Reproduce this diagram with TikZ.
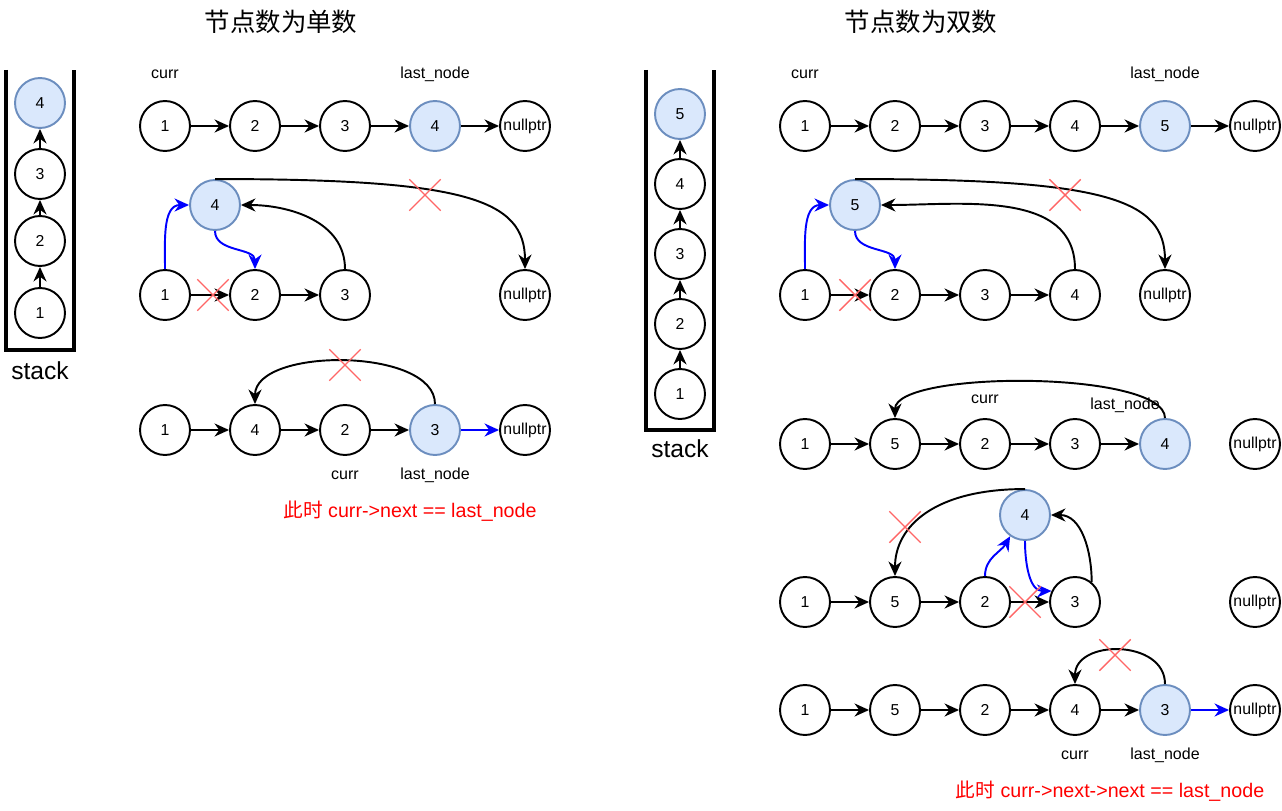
\documentclass[tikz,border=0pt]{standalone}
\usepackage{fontspec}
\setmainfont{Liberation Sans}
\newfontfamily\cjk{Noto Sans CJK SC}
\usetikzlibrary{arrows.meta,shapes.misc}
\definecolor{topfill}{HTML}{DAE8FC}
\definecolor{topline}{HTML}{6C8EBF}
\definecolor{ptrblue}{HTML}{0000FF}
\definecolor{xred}{HTML}{FF6666}
\definecolor{notered}{HTML}{FF0000}
\tikzset{
  nd/.style={circle, draw=black, line width=1.1pt, fill=white, minimum size=1cm,
             inner sep=0pt, font=\fontsize{9}{10}\selectfont},
  topnd/.style={nd, draw=topline, fill=topfill},
  ar/.style={-{Stealth[length=2.9mm,width=2.6mm]}, line width=1.1pt},
  arb/.style={ar, draw=ptrblue},
  xmark/.style={cross out, draw=xred, line width=0.8pt, minimum size=0.6cm, inner sep=0pt},
  lbl/.style={font=\fontsize{9.1}{10}\selectfont},
  ttl/.style={font=\cjk\fontsize{14.5}{16}\selectfont},
  stk/.style={font=\fontsize{14}{16}\selectfont},
  wall/.style={line width=2pt},
  note/.style={text=notered, font=\fontsize{11.2}{13}\selectfont},
}

\begin{document}
\begin{tikzpicture}[x=0.02cm,y=-0.02cm]
\useasboundingbox (0,0) rectangle (1282,811);

%% =====================================================================
%% left: odd number of nodes
%% =====================================================================
\node[ttl] (ltitle) at (281,22) {节点数为单数};

%% stack
\draw[wall] (6,70) -- (6,350) -- (74,350) -- (74,70);
\node[nd] (ls1) at (40,313) {1};
\node[nd] (ls2) at (40,241) {2};
\node[nd] (ls3) at (40,174) {3};
\node[topnd] (ls4) at (40,103) {4};
\draw[ar] (ls1) -- (ls2);
\draw[ar] (ls2) -- (ls3);
\draw[ar] (ls3) -- (ls4);
\node[stk] (lstack) at (40,371) {stack};

%% row 1
\node[lbl] (lacurr) at (165,74) {curr};
\node[lbl] (lalast) at (435,74) {last\_node};
\node[nd] (la1) at (165,126) {1};
\node[nd] (la2) at (255,126) {2};
\node[nd] (la3) at (345,126) {3};
\node[topnd] (la4) at (435,126) {4};
\node[nd] (lanull) at (525,126) {nullptr};
\draw[ar] (la1) -- (la2);
\draw[ar] (la2) -- (la3);
\draw[ar] (la3) -- (la4);
\draw[ar] (la4) -- (lanull);

%% row 2
\node[topnd] (lbtop) at (215,205) {4};
\node[nd] (lb1) at (165,295) {1};
\node[nd] (lb2) at (255,295) {2};
\node[nd] (lb3) at (345,295) {3};
\node[nd] (lbnull) at (525,295) {nullptr};
\draw[ar] (lb1) -- (lb2);
\draw[ar] (lb2) -- (lb3);
\draw[arb] (lb1.north) to[out=90,in=180] (lbtop.west);
\draw[arb] (lbtop.south) to[out=-90,in=90] (lb2.north);
\draw[ar] (lb3.north) to[out=90,in=0] (lbtop.east);
\draw[ar] (lbtop.north) .. controls +(250,0) and +(0,-70) .. (lbnull.north);
\node[xmark] (lbx1) at (213,295) {};
\node[xmark] (lbx2) at (425,195) {};

%% row 3
\node[nd] (lc1) at (165,430) {1};
\node[nd] (lc4) at (255,430) {4};
\node[nd] (lc2) at (345,430) {2};
\node[topnd] (lc3) at (435,430) {3};
\node[nd] (lcnull) at (525,430) {nullptr};
\draw[ar] (lc1) -- (lc4);
\draw[ar] (lc4) -- (lc2);
\draw[ar] (lc2) -- (lc3);
\draw[arb] (lc3) -- (lcnull);
\draw[ar] (lc3.north) .. controls +(0,-57) and +(0,-57) .. (lc4.north);
\node[xmark] (lcx) at (345,365) {};
\node[lbl] (lccurr) at (345,475) {curr};
\node[lbl] (lclast) at (435,475) {last\_node};
\node[note] (lnote) at (410,511) {{\cjk 此时} curr->next == last\_node};

%% =====================================================================
%% right: even number of nodes
%% =====================================================================
\node[ttl] (rtitle) at (921,22) {节点数为双数};

%% stack
\draw[wall] (646,70) -- (646,430) -- (714,430) -- (714,70);
\node[nd] (rs1) at (680,394) {1};
\node[nd] (rs2) at (680,324) {2};
\node[nd] (rs3) at (680,254) {3};
\node[nd] (rs4) at (680,184) {4};
\node[topnd] (rs5) at (680,114) {5};
\draw[ar] (rs1) -- (rs2);
\draw[ar] (rs2) -- (rs3);
\draw[ar] (rs3) -- (rs4);
\draw[ar] (rs4) -- (rs5);
\node[stk] (rstack) at (680,449) {stack};

%% row 1
\node[lbl] (racurr) at (805,74) {curr};
\node[lbl] (ralast) at (1165,74) {last\_node};
\node[nd] (ra1) at (805,126) {1};
\node[nd] (ra2) at (895,126) {2};
\node[nd] (ra3) at (985,126) {3};
\node[nd] (ra4) at (1075,126) {4};
\node[topnd] (ra5) at (1165,126) {5};
\node[nd] (ranull) at (1255,126) {nullptr};
\draw[ar] (ra1) -- (ra2);
\draw[ar] (ra2) -- (ra3);
\draw[ar] (ra3) -- (ra4);
\draw[ar] (ra4) -- (ra5);
\draw[ar] (ra5) -- (ranull);

%% row 2
\node[topnd] (rbtop) at (855,205) {5};
\node[nd] (rb1) at (805,295) {1};
\node[nd] (rb2) at (895,295) {2};
\node[nd] (rb3) at (985,295) {3};
\node[nd] (rb4) at (1075,295) {4};
\node[nd] (rbnull) at (1165,295) {nullptr};
\draw[ar] (rb1) -- (rb2);
\draw[ar] (rb2) -- (rb3);
\draw[ar] (rb3) -- (rb4);
\draw[arb] (rb1.north) to[out=90,in=180] (rbtop.west);
\draw[arb] (rbtop.south) to[out=-90,in=90] (rb2.north);
\draw[ar] (rb4.north) to[out=90,in=0] (rbtop.east);
\draw[ar] (rbtop.north) .. controls +(250,0) and +(0,-70) .. (rbnull.north);
\node[xmark] (rbx1) at (855,295) {};
\node[xmark] (rbx2) at (1065,195) {};

%% row 3
\node[lbl] (rccurr) at (985,399) {curr};
\node[lbl] (rclast) at (1125,405) {last\_node};
\node[nd] (rc1) at (805,444) {1};
\node[nd] (rc5) at (895,444) {5};
\node[nd] (rc2) at (985,444) {2};
\node[nd] (rc3) at (1075,444) {3};
\node[topnd] (rc4) at (1165,444) {4};
\node[nd] (rcnull) at (1255,444) {nullptr};
\draw[ar] (rc1) -- (rc5);
\draw[ar] (rc5) -- (rc2);
\draw[ar] (rc2) -- (rc3);
\draw[ar] (rc3) -- (rc4);
\draw[ar] (rc4.north) .. controls +(0,-48) and +(0,-48) .. (rc5.north);

%% row 4
\node[topnd] (rdtop) at (1025,515) {4};
\node[nd] (rd1) at (805,602) {1};
\node[nd] (rd5) at (895,602) {5};
\node[nd] (rd2) at (985,602) {2};
\node[nd] (rd3) at (1075,602) {3};
\node[nd] (rdnull) at (1255,602) {nullptr};
\draw[ar] (rd1) -- (rd5);
\draw[ar] (rd5) -- (rd2);
\draw[ar] (rd2) -- (rd3);
\draw[arb] (rd2.north) to[out=90,in=-120] (rdtop.235);
\draw[arb] (rdtop.south) to[out=-90,in=180] (rd3.155);
\draw[ar] (rd3.50) to[out=90,in=0] (rdtop.east);
\draw[ar] (rdtop.north) .. controls +(-90,0) and +(0,-50) .. (rd5.north);
\node[xmark] (rdx1) at (905,527) {};
\node[xmark] (rdx2) at (1025,602) {};

%% row 5
\node[nd] (re1) at (805,710) {1};
\node[nd] (re5) at (895,710) {5};
\node[nd] (re2) at (985,710) {2};
\node[nd] (re4) at (1075,710) {4};
\node[topnd] (re3) at (1165,710) {3};
\node[nd] (renull) at (1255,710) {nullptr};
\draw[ar] (re1) -- (re5);
\draw[ar] (re5) -- (re2);
\draw[ar] (re2) -- (re4);
\draw[ar] (re4) -- (re3);
\draw[arb] (re3) -- (renull);
\draw[ar] (re3.north) .. controls +(0,-45) and +(0,-45) .. (re4.north);
\node[xmark] (rex) at (1115,655) {};
\node[lbl] (recurr) at (1075,755) {curr};
\node[lbl] (relast) at (1165,755) {last\_node};
\node[note] (rnote) at (1110,791) {{\cjk 此时} curr->next->next == last\_node};

\end{tikzpicture}
\end{document}
